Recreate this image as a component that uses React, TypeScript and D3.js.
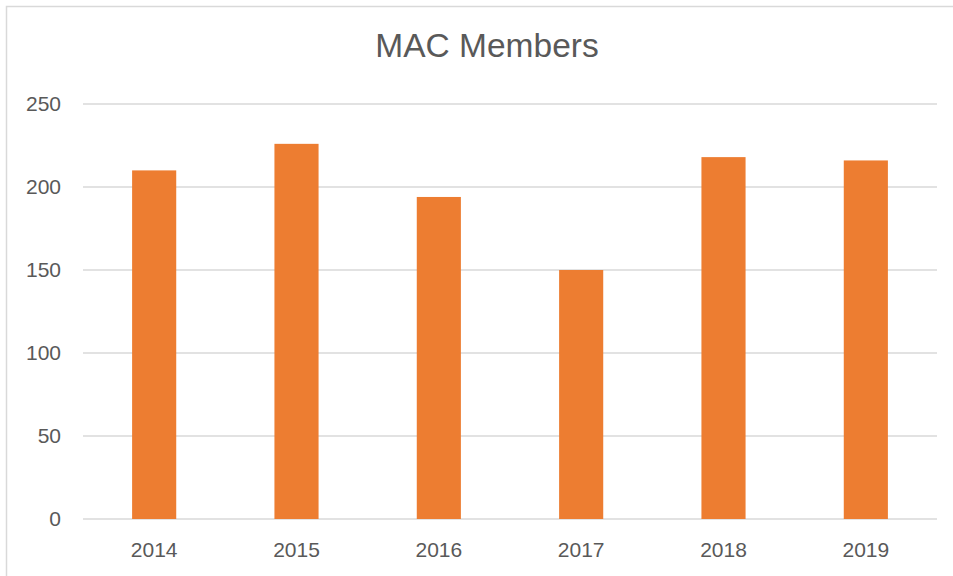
import React, { useEffect, useRef } from 'react';
import * as d3 from 'd3';

// Chart data
const years = ['2014', '2015', '2016', '2017', '2018', '2019'];
const members = [210, 226, 194, 150, 218, 216];
const yTicks = [0, 50, 100, 150, 200, 250];

function App() {
  const svgRef = useRef<SVGSVGElement>(null);

  useEffect(() => {
    const width = 953;
    const height = 576;
    const margin = { top: 104, right: 16, bottom: 57, left: 83 };

    d3.select(svgRef.current).selectAll('*').remove();

    const svg = d3.select(svgRef.current)
      .attr('width', width)
      .attr('height', height)
      .style('font-family', '"Liberation Sans", Arial, sans-serif');

    svg.append('rect')
      .attr('width', width)
      .attr('height', height)
      .attr('fill', '#fff');

    // chart area border (runs past the bottom/right edge)
    svg.append('rect')
      .attr('x', 6.5)
      .attr('y', 6.5)
      .attr('width', width + 10)
      .attr('height', height + 10)
      .attr('fill', 'none')
      .attr('stroke', '#d9d9d9')
      .attr('stroke-width', 1.5);

    const xScale = d3.scaleBand<string>()
      .domain(years)
      .range([margin.left, width - margin.right])
      .paddingInner(0.69)
      .paddingOuter(0.345);

    const yScale = d3.scaleLinear()
      .domain([0, 250])
      .range([height - margin.bottom, margin.top]);

    // Gridlines
    svg.append('g')
      .selectAll('line')
      .data(yTicks)
      .enter().append('line')
      .attr('x1', margin.left)
      .attr('x2', width - margin.right)
      .attr('y1', d => yScale(d))
      .attr('y2', d => yScale(d))
      .attr('stroke', '#d9d9d9')
      .attr('stroke-width', 1.5);

    // Y labels
    svg.append('g')
      .selectAll('text')
      .data(yTicks)
      .enter().append('text')
      .attr('x', 61)
      .attr('y', d => yScale(d))
      .attr('dy', '0.35em')
      .attr('text-anchor', 'end')
      .attr('fill', '#595959')
      .style('font-size', '21px')
      .text(d => d);

    // Bars
    svg.append('g')
      .selectAll('rect')
      .data(members)
      .enter().append('rect')
      .attr('x', (d, i) => xScale(years[i]) as number)
      .attr('y', d => yScale(d))
      .attr('width', xScale.bandwidth())
      .attr('height', d => yScale(0) - yScale(d))
      .attr('fill', '#ed7d31');

    // X labels
    svg.append('g')
      .selectAll('text')
      .data(years)
      .enter().append('text')
      .attr('x', d => (xScale(d) as number) + xScale.bandwidth() / 2)
      .attr('y', 557)
      .attr('text-anchor', 'middle')
      .attr('fill', '#595959')
      .style('font-size', '21px')
      .text(d => d);

    // Title
    svg.append('text')
      .attr('x', 487)
      .attr('y', 57)
      .attr('text-anchor', 'middle')
      .attr('fill', '#595959')
      .style('font-size', '33.5px')
      .text('MAC Members');
  }, []);

  return (
    <svg ref={svgRef} style={{ position: 'absolute', left: 0, top: 0, display: 'block' }}></svg>
  );
}

export default App;
